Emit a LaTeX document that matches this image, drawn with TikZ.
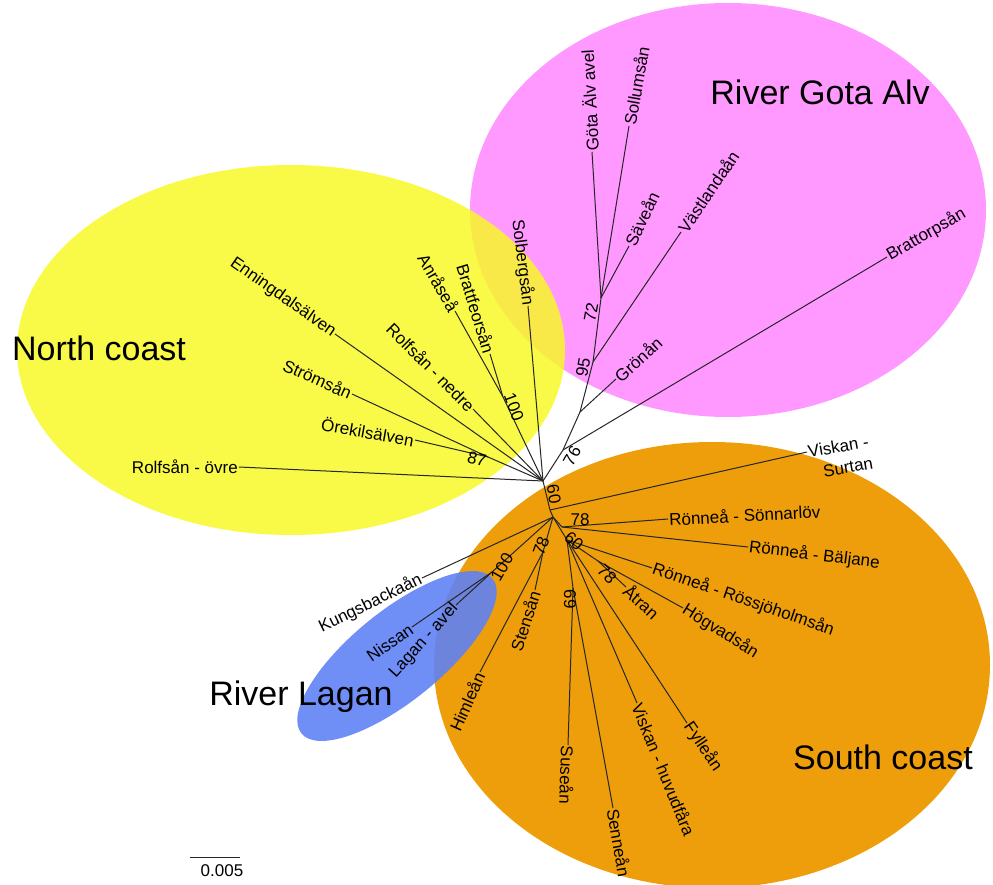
\documentclass[tikz,border=0pt]{standalone}
\usepackage{fontspec}
\setmainfont{Liberation Sans}
\usepackage{tikz}

\definecolor{gotapink}{RGB}{255,153,255}
\definecolor{northyellow}{RGB}{248,248,40}
\definecolor{southorange}{RGB}{238,158,10}
\definecolor{laganblue}{RGB}{95,130,245}

\tikzset{
  leaf/.style={font=\fontsize{17}{19}\selectfont, inner sep=1pt},
  boot/.style={font=\fontsize{17}{19}\selectfont, inner sep=0pt},
  region/.style={font=\fontsize{34}{40}\selectfont},
  branch/.style={line width=1pt, black!85}
}

\begin{document}
\begin{tikzpicture}[x=1pt, y=-1pt]

    \useasboundingbox (0,0) rectangle (993,885);

    % coloured groups
    \fill[gotapink] (728,210) ellipse [x radius=258, y radius=207];
    \fill[northyellow, opacity=0.85] (291,350) ellipse [x radius=274, y radius=185];
    \fill[southorange] (712,665) ellipse [x radius=278, y radius=223];
    \begin{scope}[shift={(397,656)}, rotate=39]
      \fill[laganblue, opacity=0.9] (0,0) ellipse [x radius=123, y radius=45];
    \end{scope}

    \node[region] (gotatitle) at (820,92) {River Gota Alv};
    \node[region] (northtitle) at (99,348) {North coast};
    \node[region] (lagantitle) at (301,697) {River Lagan};
    \node[region] (southtitle) at (883,757) {South coast};

    % inner nodes of the tree
    \coordinate (c) at (543,481);
    \coordinate (n76) at (563,450);
    \coordinate (ngr) at (580,412);
    \coordinate (n95) at (593,362);
    \coordinate (n72) at (601,298);
    \coordinate (n100) at (503,397);
    \coordinate (n87) at (488,457);
    \coordinate (n60a) at (550,510);
    \coordinate (ns) at (553,517);
    \coordinate (n78r) at (562,527);
    \coordinate (n60b) at (567,540);
    \coordinate (n78b) at (598,561);
    \coordinate (n69) at (573,588);
    \coordinate (n100l) at (492,572);
    \coordinate (n78s) at (543,552);

    % leaves, River Gota Alv
    \node[leaf, rotate=93, anchor=west] (gota) at (592,152) {Göta Älv avel};
    \node[leaf, rotate=80, anchor=west] (sollum) at (629,126) {Sollumsån};
    \node[leaf, rotate=65, anchor=west] (save) at (629,246) {Säveån};
    \node[leaf, rotate=56, anchor=west] (vastland) at (681,232) {Västlandaån};
    \node[leaf, rotate=42, anchor=west] (gronan) at (616,379) {Grönån};
    \node[leaf, rotate=30, anchor=west] (brattorp) at (887,257) {Brattorpsån};

    % leaves, north coast
    \node[leaf, rotate=-83, anchor=east] (solberg) at (528,306) {Solbergsån};
    \node[leaf, rotate=-73, anchor=east] (brattfe) at (490,354) {Brattfeorsån};
    \node[leaf, rotate=-60, anchor=east] (anrase) at (455,311) {Anråseå};
    \node[leaf, rotate=-45, anchor=east] (nedre) at (473,409) {Rolfsån - nedre};
    \node[leaf, rotate=-35, anchor=east] (enning) at (335,334) {Enningdalsälven};
    \node[leaf, rotate=-24, anchor=east] (stroms) at (352,394) {Strömsån};
    \node[leaf, rotate=-10, anchor=east] (orekil) at (415,440) {Örekilsälven};
    \node[leaf, anchor=east] (ovre) at (239,467) {Rolfsån - övre};

    % leaves, south coast
    \node[leaf, rotate=10, anchor=west] (surtan) at (807,452) {Viskan -};
    \node[leaf, rotate=10] (surtanb) at (848,467) {Surtan};
    \node[leaf, rotate=3, anchor=west] (sonnarlov) at (668,519) {Rönneå - Sönnarlöv};
    \node[leaf, rotate=-7, anchor=west] (baljane) at (748,547) {Rönneå - Bäljane};
    \node[leaf, rotate=-19, anchor=west] (rossjo) at (652,568) {Rönneå - Rössjöholmsån};
    \node[leaf, rotate=-32, anchor=west] (hogvad) at (683,608) {Högvadsån};
    \node[leaf, rotate=-42, anchor=west] (atran) at (626,587) {Åtran};
    \node[leaf, rotate=-56, anchor=west] (fyllean) at (687,723) {Fylleån};
    \node[leaf, rotate=-68, anchor=west] (huvud) at (637,703) {Viskan - huvudfåra};
    \node[leaf, rotate=-80, anchor=west] (sennean) at (613,808) {Senneån};
    \node[leaf, rotate=-92, anchor=west] (susean) at (568,745) {Suseån};
    \node[leaf, rotate=66, anchor=east] (himlean) at (480,672) {Himleån};
    \node[leaf, rotate=72, anchor=east] (stensan) at (535,590) {Stensån};
    \node[leaf, rotate=26, anchor=east] (kungs) at (422,578) {Kungsbackaån};

    % leaves, River Lagan
    \node[leaf, rotate=48, anchor=east] (laganavel) at (456,605) {Lagan - avel};
    \node[leaf, rotate=35, anchor=east] (nissan) at (412,627) {Nissan};

    % branches
    \draw[branch] (c) -- (n76) -- (ngr) -- (n95) -- (n72);
    \draw[branch] (n72) -- (gota.west);
    \draw[branch] (n72) -- (sollum.west);
    \draw[branch] (n72) -- (save.west);
    \draw[branch] (n95) -- (vastland.west);
    \draw[branch] (ngr) -- (gronan.west);
    \draw[branch] (n76) -- (brattorp.west);

    \draw[branch] (c) -- (solberg.east);
    \draw[branch] (c) -- (n100);
    \draw[branch] (n100) -- (brattfe.east);
    \draw[branch] (n100) -- (anrase.east);
    \draw[branch] (c) -- (nedre.east);
    \draw[branch] (c) -- (enning.east);
    \draw[branch] (c) -- (n87);
    \draw[branch] (n87) -- (stroms.east);
    \draw[branch] (n87) -- (orekil.east);
    \draw[branch] (c) -- (ovre.east);

    \draw[branch] (c) -- (n60a) -- (ns);
    \draw[branch] (n60a) -- (surtan.west);
    \draw[branch] (ns) -- (kungs.east);
    \draw[branch] (ns) -- (n100l);
    \draw[branch] (n100l) -- (nissan.east);
    \draw[branch] (n100l) -- (laganavel.east);
    \draw[branch] (ns) -- (n78s);
    \draw[branch] (n78s) -- (stensan.east);
    \draw[branch] (n78s) -- (himlean.east);
    \draw[branch] (ns) -- (n78r);
    \draw[branch] (n78r) -- (sonnarlov.west);
    \draw[branch] (n78r) -- (baljane.west);
    \draw[branch] (ns) -- (n60b);
    \draw[branch] (n60b) -- (rossjo.west);
    \draw[branch] (n60b) -- (n78b);
    \draw[branch] (n78b) -- (atran.west);
    \draw[branch] (n78b) -- (hogvad.west);
    \draw[branch] (n60b) -- (huvud.west);
    \draw[branch] (n60b) -- (fyllean.west);
    \draw[branch] (n60b) -- (n69);
    \draw[branch] (n69) -- (susean.west);
    \draw[branch] (n69) -- (sennean.west);

    % bootstrap values
    \node[boot, rotate=80] (b72) at (591,312) {72};
    \node[boot, rotate=80] (b95) at (583,367) {95};
    \node[boot, rotate=60] (b76) at (572,456) {76};
    \node[boot, rotate=-70] (b100) at (514,407) {100};
    \node[boot, rotate=-15] (b87) at (477,459) {87};
    \node[boot, rotate=-80] (b60a) at (554,494) {60};
    \node[boot] (b78r) at (580,520) {78};
    \node[boot, rotate=-40] (b60b) at (574,541) {60};
    \node[boot, rotate=-45] (b78b) at (607,574) {78};
    \node[boot, rotate=-90] (b69) at (570,599) {69};
    \node[boot, rotate=60] (b100l) at (502,567) {100};
    \node[boot, rotate=70] (b78s) at (541,546) {78};

    % scale bar
    \coordinate (sb1) at (190,857);
    \coordinate (sb2) at (240,857);
    \draw[branch] (sb1) -- (sb2);
    \node[leaf] (sblabel) at (222,871) {0.005};

\end{tikzpicture}
\end{document}
